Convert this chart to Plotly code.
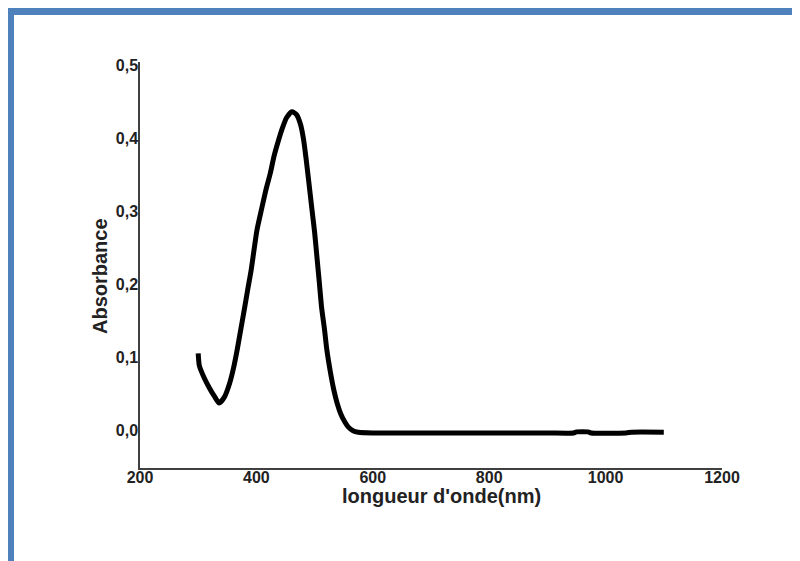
import plotly.graph_objects as go

# Wavelength (nm) and absorbance
wavelength = [300, 302, 310, 319, 328, 336, 345, 354, 361, 367, 373, 379, 385, 391, 396, 401,
              409, 417, 424, 430, 437, 444, 452, 461, 469, 476, 481, 485, 490, 495, 500, 504,
              508, 512, 517, 521, 527, 533, 539, 545, 552, 558, 566, 575, 600, 700, 800, 900,
              945, 950, 970, 975, 1035, 1045, 1100]
absorbance = [0.105, 0.088, 0.072, 0.058, 0.046, 0.037, 0.045, 0.064, 0.086, 0.110, 0.137,
              0.164, 0.192, 0.219, 0.247, 0.274, 0.303, 0.331, 0.352, 0.374, 0.394, 0.412,
              0.428, 0.436, 0.432, 0.418, 0.398, 0.374, 0.340, 0.305, 0.271, 0.237, 0.203,
              0.168, 0.138, 0.110, 0.080, 0.055, 0.036, 0.022, 0.011, 0.004, -0.001, -0.003,
              -0.004, -0.004, -0.004, -0.004, -0.004, -0.0025, -0.0025, -0.004, -0.004,
              -0.003, -0.003]

x_tickvals = [200, 400, 600, 800, 1000, 1200]
x_ticktext = ["200", "400", "600", "800", "1000", "1200"]
y_tickvals = [0.0, 0.1, 0.2, 0.3, 0.4, 0.5]
y_ticktext = ["0,0", "0,1", "0,2", "0,3", "0,4", "0,5"]
x_title = "longueur d'onde(nm)"
y_title = "Absorbance"

font_family = "Liberation Sans, Arial, sans-serif"
tick_font = dict(family=font_family, size=16, color="#222222", weight="bold")
title_font = dict(family=font_family, size=20, color="#222222", weight="bold")

# The page puts the figure 8 px in from the top-left corner; margins allow for it.
L, T, B, R = 132, 54, 101, 86
W, H = 800, 561
pw, ph = W - L - R, H - T - B

fig = go.Figure()
fig.add_trace(go.Scatter(
    x=wavelength, y=absorbance, mode="lines",
    line=dict(color="black", width=5, shape="spline", smoothing=0.6),
    showlegend=False, hoverinfo="skip",
))

fig.update_layout(
    width=W, height=H,
    margin=dict(l=L, r=R, t=T, b=B),
    paper_bgcolor="white", plot_bgcolor="white",
    xaxis=dict(
        range=[200, 1200], tickvals=x_tickvals, ticktext=x_ticktext,
        showgrid=False, zeroline=False, showline=True, linecolor="#404040", linewidth=1.5,
        ticks="", tickfont=tick_font, ticklabelstandoff=-6,
    ),
    yaxis=dict(
        range=[-0.052, 0.504], tickvals=y_tickvals, ticktext=y_ticktext,
        showgrid=False, zeroline=False, showline=True, linecolor="#404040", linewidth=1.5,
        ticks="", tickfont=tick_font, ticklabelstandoff=-3,
    ),
    annotations=[
        dict(text=x_title, xref="paper", yref="paper", x=(433 - L) / pw, y=(ph + T - 488) / ph,
             xanchor="center", yanchor="middle", showarrow=False, font=title_font),
        dict(text=y_title, xref="paper", yref="paper", x=(92 - L) / pw, y=(ph + T - 268) / ph,
             xanchor="center", yanchor="middle", textangle=-90, showarrow=False, font=title_font),
    ],
    shapes=[
        dict(type="rect", xref="paper", yref="paper", layer="above",
             x0=-L / pw, x1=(W - L) / pw, y0=(ph + T - 7) / ph, y1=(ph + T) / ph,
             fillcolor="#4f81bd", line=dict(width=0)),
        dict(type="rect", xref="paper", yref="paper", layer="above",
             x0=-L / pw, x1=(6 - L) / pw, y0=-B / ph, y1=(ph + T) / ph,
             fillcolor="#4f81bd", line=dict(width=0)),
    ],
)

fig.write_html("out.html")
